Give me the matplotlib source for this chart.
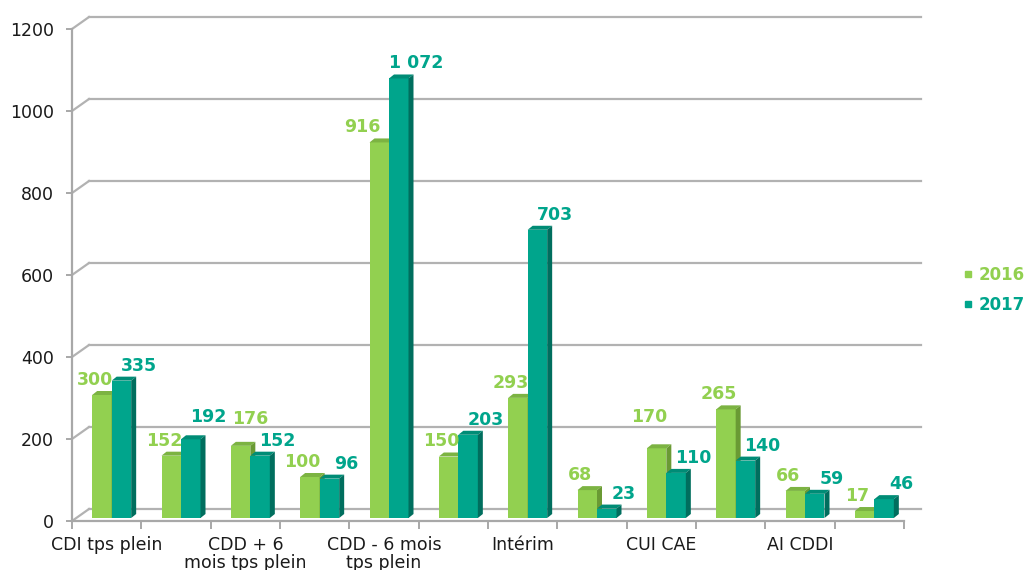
import matplotlib
matplotlib.use("Agg")
import matplotlib.pyplot as plt
from matplotlib.patches import Polygon
from matplotlib.lines import Line2D

# ---------------- data ----------------
categories = ["CDI tps plein", "", "CDD + 6\nmois tps plein", "", "CDD - 6 mois\ntps plein", "",
              "Intérim", "", "CUI CAE", "", "AI CDDI", ""]
series_names = ["2016", "2017"]
values_2016 = [300, 152, 176, 100, 916, 150, 293, 68, 170, 265, 66, 17]
values_2017 = [335, 192, 152, 96, 1072, 203, 703, 23, 110, 140, 59, 46]
y_ticks = [0, 200, 400, 600, 800, 1000, 1200]

# ---------------- style ----------------
GREEN, GREEN_TOP, GREEN_SIDE = "#92D050", "#7CB342", "#6A9A34"
TEAL, TEAL_TOP, TEAL_SIDE = "#00A58C", "#008C76", "#006E5E"
GRID = "#B2B2B2"
AXIS = "#A8A8A8"
FS = 12.5

W, H, DPI = 1029, 570, 100
fig = plt.figure(figsize=(W / DPI, H / DPI), dpi=DPI)
ax_left, ax_right, ax_top, ax_bottom = 72, 904, 29, 521
ax = fig.add_axes([ax_left / W, (H - ax_bottom) / H, (ax_right - ax_left) / W, (ax_bottom - ax_top) / H])
n = len(values_2016)
ax.set_xlim(-0.5, n - 0.5)
ax.set_ylim(y_ticks[0], y_ticks[-1])
for s in ax.spines.values():
    s.set_visible(False)
ax.patch.set_visible(False)

ux = n / (ax_right - ax_left)                           # data x-units per pixel
uy = (y_ticks[-1] - y_ticks[0]) / (ax_bottom - ax_top)  # data y-units per pixel

# back wall (3D depth) offsets in pixels
WALL_DX, WALL_DY = 17, 12
wx, wy = WALL_DX * ux, WALL_DY * uy
x0, x1 = -0.5, n - 0.5
for t in y_ticks:
    ax.plot([x0 + wx, x1 + wx], [t + wy, t + wy], color=GRID, lw=1.6, clip_on=False, zorder=1)
    ax.plot([x0, x0 + wx], [t, t + wy], color=GRID, lw=1.6, clip_on=False, zorder=1)
# front floor edge + left axis
ax.plot([x0, x1], [0, 0], color=AXIS, lw=1.6, clip_on=False, zorder=1)
ax.plot([x0, x0], [0, y_ticks[-1]], color=AXIS, lw=1.6, clip_on=False, zorder=1)

# ticks
ax.set_yticks(y_ticks)
ax.set_yticklabels([str(t) for t in y_ticks], fontsize=FS, color="#1a1a1a")
ax.tick_params(axis="y", length=4, width=1.4, color=AXIS, pad=9)
label_pos = [i for i, c in enumerate(categories) if c]
ax.set_xticks(label_pos)
ax.set_xticklabels([categories[i] for i in label_pos], fontsize=FS, color="#1a1a1a",
                   linespacing=1.0)
ax.tick_params(axis="x", which="major", length=0, pad=11)
ax.set_xticks([i - 0.5 for i in range(n + 1)], minor=True)
ax.tick_params(axis="x", which="minor", length=6, width=1.4, color=AXIS)

# bars with pseudo-3D faces
BAR_DX, BAR_DY = 5, 3        # shift of bar front faces into the scene (px)
DEPTH_DX, DEPTH_DY = 5, 4    # bar depth (px)
bar_w = 19.5 * ux
sx, sy = BAR_DX * ux, BAR_DY * uy
dx, dy = DEPTH_DX * ux, DEPTH_DY * uy

def draw_bar(xl, v, front, top, side, z):
    ax.bar(xl + sx, v, width=bar_w, bottom=sy, align="edge", color=front, lw=0, zorder=z)
    xr = xl + sx + bar_w
    yt = v + sy
    ax.add_patch(Polygon([(xl + sx, yt), (xr, yt), (xr + dx, yt + dy), (xl + sx + dx, yt + dy)],
                         closed=True, fc=top, ec="none", zorder=z))
    ax.add_patch(Polygon([(xr, sy), (xr, yt), (xr + dx, yt + dy), (xr + dx, sy + dy)],
                         closed=True, fc=side, ec="none", zorder=z))

for i in range(n):
    draw_bar(i - bar_w, values_2016[i], GREEN, GREEN_TOP, GREEN_SIDE, 3 + 2 * i)
    draw_bar(i, values_2017[i], TEAL, TEAL_TOP, TEAL_SIDE, 4 + 2 * i)

def fmt(v):
    return f"{v:,}".replace(",", " ")

# data-label placement (pixels, relative to category centre / bar top)
LABEL_DX = {"2016": -12, "2017": 32}
LABEL_DY = 15
LABEL_NUDGE = {("2016", 2): (17, 12), ("2017", 1): (0, 7), ("2016", 8): (0, 16),
               ("2016", 4): (-10, 0)}

for name, vals, col in [("2016", values_2016, GREEN), ("2017", values_2017, TEAL)]:
    for i, v in enumerate(vals):
        ndx, ndy = LABEL_NUDGE.get((name, i), (0, 0))
        ax.annotate(fmt(v), xy=(i, v + sy),
                    xytext=(LABEL_DX[name] + ndx, LABEL_DY + ndy), textcoords="offset pixels",
                    ha="center", va="center", fontsize=FS, fontweight="bold", color=col,
                    zorder=50, annotation_clip=False)

handles = [Line2D([], [], marker="s", color=GREEN, linestyle="", markersize=4.6),
           Line2D([], [], marker="s", color=TEAL, linestyle="", markersize=4.6)]
fig.legend(handles, series_names, loc="center left", bbox_to_anchor=(962 / W, (H - 290) / H),
           frameon=False, labelcolor=[GREEN, TEAL], prop={"weight": "bold", "size": 12},
           handlelength=0.7, handletextpad=0.3, borderpad=0, borderaxespad=0, labelspacing=0.7)

fig.savefig("out.png", dpi=DPI)
